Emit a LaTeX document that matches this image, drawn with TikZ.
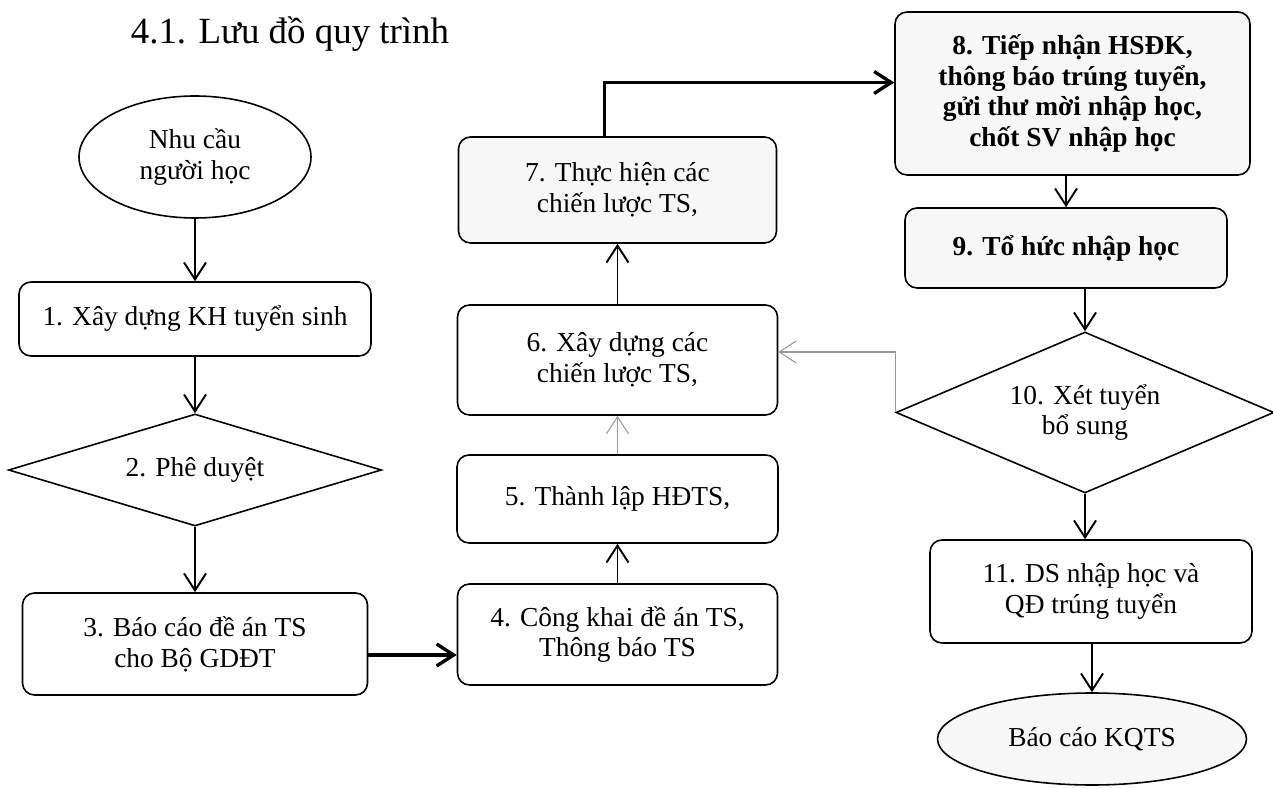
\documentclass[tikz,border=0pt]{standalone}
\usepackage{fontspec}
\setmainfont{Liberation Serif}
\usepackage{tikz}
\usetikzlibrary{positioning}
\usetikzlibrary{calc}
\usetikzlibrary{shapes}
\usetikzlibrary{arrows.meta}
\tikzset{boxStep/.style={draw, rounded corners=0.24cm, line width=0.9pt, align=center, font=\fontsize{15.6}{17.5}\selectfont}}
\tikzset{boxStepShaded/.style={boxStep, fill=gray!6}}
\tikzset{boxDecision/.style={draw, diamond, inner sep=0pt, line width=0.9pt, align=center, font=\fontsize{15.6}{17.5}\selectfont}}
\tikzset{boxTerminal/.style={draw, ellipse, inner sep=0pt, line width=0.9pt, align=center, font=\fontsize{15.6}{17.5}\selectfont}}
\tikzset{flowArrow/.style={-{Straight Barb[length=0.34cm, width=0.44cm]}, line width=1.1pt}}
\tikzset{flowArrowThick/.style={flowArrow, line width=1.9pt}}
\tikzset{flowArrowThin/.style={flowArrow, line width=0.6pt, draw=gray!80}}

\begin{document}
\begin{tikzpicture}

\useasboundingbox (0, 0) rectangle (25.46, 15.76);

\node[font=\fontsize{21}{24}\selectfont] (title) at (5.8, 15.08) {4.1. Lưu đồ quy trình};

\node[boxTerminal, minimum width=4.64cm, minimum height=2.44cm] (start) at (3.9, 12.62) {Nhu cầu\\người học};
\node[boxStep, minimum width=7.04cm, minimum height=1.48cm] (s1) at (3.9, 9.38) {1. Xây dựng KH tuyển sinh};
\node[boxDecision, aspect=3.33, minimum width=7.46cm, minimum height=2.24cm] (s2) at (3.9, 6.36) {2. Phê duyệt};
\node[boxStep, minimum width=6.9cm, minimum height=2.04cm] (s3) at (3.9, 2.88) {3. Báo cáo đề án TS\\cho Bộ GDĐT};

\node[boxStep, minimum width=6.4cm, minimum height=2.02cm] (s4) at (12.35, 3.07) {4. Công khai đề án TS,\\Thông báo TS};
\node[boxStep, minimum width=6.42cm, minimum height=1.76cm] (s5) at (12.35, 5.78) {5. Thành lập HĐTS,};
\node[boxStep, minimum width=6.4cm, minimum height=2.2cm] (s6) at (12.35, 8.56) {6. Xây dựng các\\chiến lược TS,};
\node[boxStepShaded, minimum width=6.36cm, minimum height=2.12cm] (s7) at (12.35, 11.96) {7. Thực hiện các\\chiến lược TS,};

\node[boxStepShaded, minimum width=7.1cm, minimum height=3.26cm, font=\fontsize{15.6}{17.5}\selectfont\bfseries] (s8) at (21.45, 13.89) {8. Tiếp nhận HSĐK,\\thông báo trúng tuyển,\\gửi thư mời nhập học,\\chốt SV nhập học};
\node[boxStepShaded, minimum width=6.44cm, minimum height=1.6cm, font=\fontsize{15.6}{17.5}\selectfont\bfseries] (s9) at (21.32, 10.8) {9. Tổ hức nhập học};
\node[boxDecision, aspect=2.35, minimum width=7.56cm, minimum height=3.22cm] (s10) at (21.7, 7.51) {10. Xét tuyển\\bổ sung};
\node[boxStep, minimum width=6.44cm, minimum height=2.06cm] (s11) at (21.82, 3.93) {11. DS nhập học và\\QĐ trúng tuyển};
\node[boxTerminal, fill=gray!6, minimum width=6.18cm, minimum height=1.84cm] (finish) at (21.84, 0.98) {Báo cáo KQTS};

\draw[flowArrow] (start) -- (s1);
\draw[flowArrow] (s1) -- (s2);
\draw[flowArrow] (s2) -- (s3);
\draw[flowArrowThick] ([yshift=-0.22cm]s3.east) -- ([yshift=-0.22cm]s3.east -| s4.west);
\draw[flowArrow] (s4) -- (s5);
\draw[flowArrowThin] (s5) -- (s6);
\draw[flowArrow] (s6) -- (s7);
\draw[flowArrowThick] ([xshift=-0.26cm]s7.north) |- ([yshift=0.22cm]s8.west);
\draw[flowArrow] (s8.south -| s9.north) -- (s9.north);
\draw[flowArrow] (s9.south -| s10.north) -- (s10.north);
\draw[flowArrow] (s10.south) -- (s10.south |- s11.north);
\draw[flowArrow] (s11.south -| finish.north) -- (finish.north);
\draw[flowArrowThin] (s10.west) |- ([yshift=0.16cm]s6.east);

\end{tikzpicture}
\end{document}
